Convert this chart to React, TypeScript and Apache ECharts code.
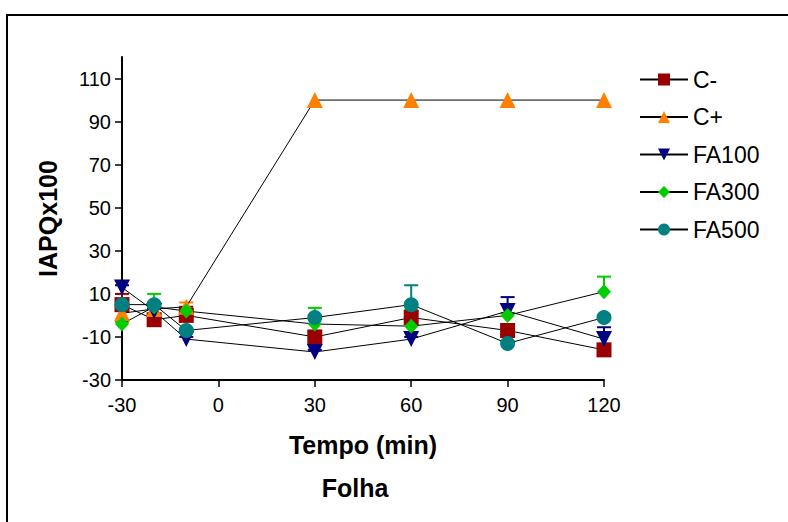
import React, { useEffect, useRef } from "react";
import * as echarts from "echarts";

const times = [-30, -20, -10, 30, 60, 90, 120];
const xTicks = [-30, 0, 30, 60, 90, 120];
const yTicks = [-30, -10, 10, 30, 50, 70, 90, 110];

const seriesNames = ["C-", "C+", "FA100", "FA300", "FA500"];
const cMinus = [5, -2, 0, -10, -1, -7, -16];
const cPlus = [1, 3, 4, 100, 100, 100, 100];
const fa100 = [13, 2, -11, -17, -11, 2, -11];
const fa300 = [-4, 4, 2, -4, -5, 0, 11];
const fa500 = [5, 5, -7, -1, 5, -13, -1];

const cMinusErr = [5, 1, 4, 1, 3, 1, 2];
const cPlusErr = [1, 1, 2, 0, 0, 0, 0];
const fa100Err = [1, 1, 1, 1, 1, 6.5, 5.5];
const fa300Err = [1, 6, 1, 7.5, 7.5, 1, 7];
const fa500Err = [1, 1, 1, 1, 9, 1, 1];

const colors = ["#990000", "#FF8000", "#000080", "#00CC00", "#008080"];
const symbols = ["rect", "triangle", "triangle", "diamond", "circle"];
const rotations = [0, 0, 180, 0, 0];
const sizes: any[] = [15, 16, 16, [14, 15], 15];

const values = [cMinus, cPlus, fa100, fa300, fa500];
const errors = [cMinusErr, cPlusErr, fa100Err, fa300Err, fa500Err];

const FONT = "'Liberation Sans', Arial, sans-serif";

export default function App() {
  const ref = useRef<HTMLDivElement>(null);
  useEffect(() => {
    if (!ref.current) return;
    const chart = echarts.init(ref.current, null, { renderer: "svg" });

    const errSeries = values.map((vals, i) => ({
      type: "custom",
      name: seriesNames[i] + " err",
      z: 1,
      silent: true,
      data: times.map((t, j) => [t, vals[j], errors[i][j]]),
      renderItem: (params: any, api: any) => {
        const x = api.value(0);
        const v = api.value(1);
        const e = api.value(2);
        if (!e) return null;
        const p0 = api.coord([x, v]);
        const p1 = api.coord([x, v + e]);
        const style = { stroke: colors[i], lineWidth: 2 };
        return {
          type: "group",
          children: [
            { type: "line", shape: { x1: p0[0], y1: p0[1], x2: p1[0], y2: p1[1] }, style },
            { type: "line", shape: { x1: p1[0] - 7, y1: p1[1], x2: p1[0] + 7, y2: p1[1] }, style },
          ],
        };
      },
    }));

    const lineSeries = values.map((vals, i) => ({
      type: "line",
      name: seriesNames[i],
      z: 3,
      data: times.map((t, j) => [t, vals[j]]),
      symbol: symbols[i],
      symbolRotate: rotations[i],
      symbolSize: sizes[i],
      showAllSymbol: true,
      lineStyle: { color: "#000", width: 1 },
      itemStyle: { color: colors[i], borderWidth: 0 },
    }));

    chart.setOption({
      animation: false,
      textStyle: { fontFamily: FONT },
      grid: { left: 122, right: 184, top: 57, bottom: 142 },
      legend: {
        orient: "vertical",
        left: 639,
        top: 68,
        padding: 0,
        itemWidth: 48,
        itemHeight: 15,
        itemGap: 14.5,
        data: seriesNames,
        textStyle: { fontSize: 23, lineHeight: 15, color: "#000", fontFamily: FONT },
      },
      graphic: [
        {
          type: "rect",
          z: -10,
          shape: { x: 7, y: 15, width: 900, height: 700 },
          style: { fill: "none", stroke: "#000", lineWidth: 2 },
        },
        {
          type: "text",
          x: 355,
          y: 488,
          style: {
            text: "Folha",
            font: `bold 25px ${FONT}`,
            fill: "#000",
            textAlign: "center",
            textVerticalAlign: "middle",
          },
        },
      ],
      xAxis: {
        type: "value",
        min: -30,
        max: 120,
        interval: 30,
        name: "Tempo (min)",
        nameLocation: "middle",
        nameGap: 52,
        nameTextStyle: { fontSize: 25, fontWeight: "bold", color: "#000", fontFamily: FONT },
        splitLine: { show: false },
        axisLine: { onZero: false, lineStyle: { color: "#000", width: 2 } },
        axisTick: { length: 7, lineStyle: { color: "#000", width: 1.5 }, customValues: xTicks },
        axisLabel: { fontSize: 20, color: "#000", margin: 15, customValues: xTicks },
      },
      yAxis: {
        type: "value",
        min: -30,
        max: 120,
        name: "IAPQx100",
        nameLocation: "middle",
        nameGap: 62,
        nameTextStyle: { fontSize: 25, fontWeight: "bold", color: "#000", fontFamily: FONT },
        splitLine: { show: false },
        axisLine: { onZero: false, lineStyle: { color: "#000", width: 2 } },
        axisTick: { length: 7, lineStyle: { color: "#000", width: 1.5 }, customValues: yTicks },
        axisLabel: { fontSize: 20, color: "#000", margin: 11, customValues: yTicks },
      },
      series: [...errSeries, ...lineSeries],
    });
    return () => chart.dispose();
  }, []);
  return (
    <div
      ref={ref}
      style={{ position: "fixed", left: 0, top: 0, width: 788, height: 522, background: "#fff" }}
    />
  );
}
